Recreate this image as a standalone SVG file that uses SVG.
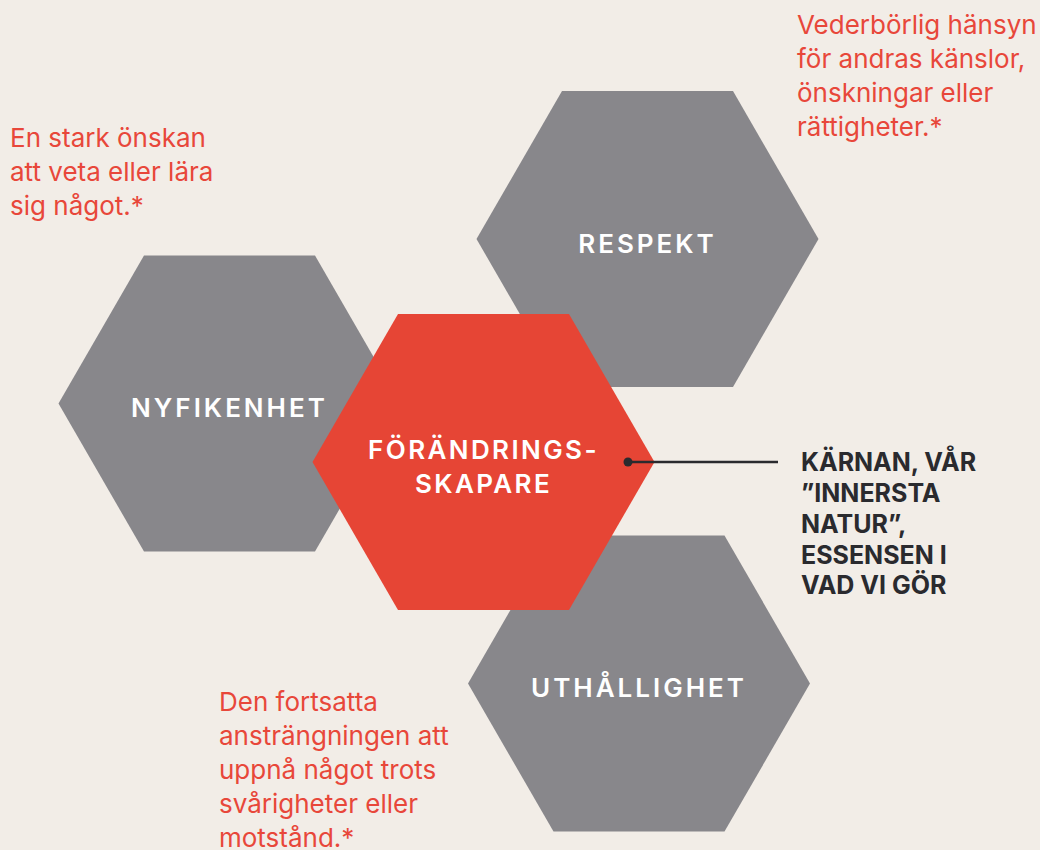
<svg xmlns="http://www.w3.org/2000/svg" width="1040" height="850" viewBox="0 0 1040 850">
<style>
.bg{fill:#f2ede7}
.hex{fill:#88878b}
.core{fill:#e64535}
.lbl{font-family:Inter,"Liberation Sans",sans-serif;font-weight:600;font-size:26px;letter-spacing:3px;fill:#ffffff;text-anchor:middle}
.lbl-core{font-family:Inter,"Liberation Sans",sans-serif;font-weight:600;font-size:26px;letter-spacing:2.4px;fill:#ffffff;text-anchor:middle}
.note{font-family:Inter,"Liberation Sans",sans-serif;font-weight:400;font-size:26px;fill:#e8473a}
.core-note{font-family:Inter,"Liberation Sans",sans-serif;font-weight:700;font-size:25px;fill:#2a2a2e}
</style>
<rect class="bg" x="0" y="0" width="1040" height="850"/>
<g id="respekt">
<polygon class="hex" points="476.5,239 562,91 733,91 818.5,239 733,387 562,387"/>
<text class="lbl" x="647.5" y="253">RESPEKT</text>
</g>
<g id="nyfikenhet">
<polygon class="hex" points="58.5,403.5 144,255.5 315,255.5 400.5,403.5 315,551.5 144,551.5"/>
<text class="lbl" x="229.5" y="417">NYFIKENHET</text>
</g>
<g id="uthallighet">
<polygon class="hex" points="468,683.5 553.5,535.5 724.5,535.5 810,683.5 724.5,831.5 553.5,831.5"/>
<text class="lbl" x="639" y="697">UTHÅLLIGHET</text>
</g>
<g id="forandringsskapare">
<polygon class="core" points="312.5,462 398,314 569,314 654.5,462 569,610 398,610"/>
<text class="lbl-core" x="483.5" y="459">FÖRÄNDRINGS-</text>
<text class="lbl-core" x="483.5" y="493">SKAPARE</text>
</g>
<g id="connectors">
<line x1="628" y1="462" x2="778" y2="462" stroke="#2a2a2e" stroke-width="2.5"/>
<circle cx="628" cy="462" r="4.5" fill="#2a2a2e"/>
</g>
<g id="note-nyfikenhet">
<text class="note" x="10" y="147">En stark önskan</text>
<text class="note" x="10" y="181">att veta eller lära</text>
<text class="note" x="10" y="215">sig något.*</text>
</g>
<g id="note-respekt">
<text class="note" x="797" y="34">Vederbörlig hänsyn</text>
<text class="note" x="797" y="68">för andras känslor,</text>
<text class="note" x="797" y="102">önskningar eller</text>
<text class="note" x="797" y="136">rättigheter.*</text>
</g>
<g id="note-uthallighet">
<text class="note" x="219" y="711">Den fortsatta</text>
<text class="note" x="219" y="745">ansträngningen att</text>
<text class="note" x="219" y="779">uppnå något trots</text>
<text class="note" x="219" y="813">svårigheter eller</text>
<text class="note" x="219" y="847">motstånd.*</text>
</g>
<g id="note-core">
<text class="core-note" x="801" y="471">KÄRNAN, VÅR</text>
<text class="core-note" x="801" y="502">”INNERSTA</text>
<text class="core-note" x="801" y="533">NATUR”,</text>
<text class="core-note" x="801" y="564">ESSENSEN I</text>
<text class="core-note" x="801" y="594">VAD VI GÖR</text>
</g>
</svg>
